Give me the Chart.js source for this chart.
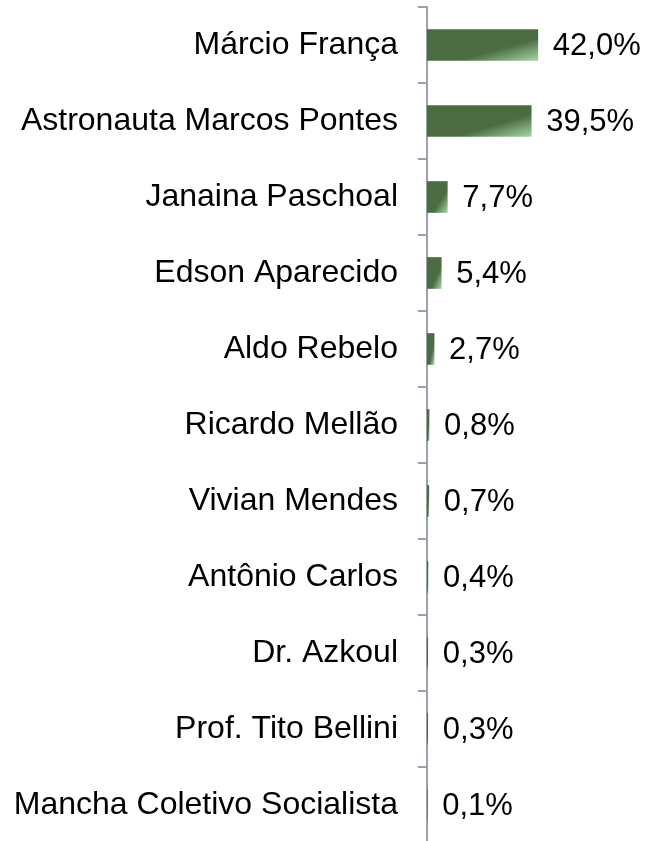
<!DOCTYPE html>
<html>
<head>
<meta charset="utf-8">
<script src="https://cdn.jsdelivr.net/npm/chart.js@4/dist/chart.umd.min.js"></script>
<style>
  html, body { margin: 0; padding: 0; background: #fff; overflow: hidden; }
  #wrap { width: 646px; height: 850px; }
</style>
</head>
<body>
<div id="wrap"><canvas id="votos" width="646" height="850"></canvas></div>
<script>
// candidatos (eixo y)
const nomes = [
  "Márcio França",
  "Astronauta Marcos Pontes",
  "Janaina Paschoal",
  "Edson Aparecido",
  "Aldo Rebelo",
  "Ricardo Mellão",
  "Vivian Mendes",
  "Antônio Carlos",
  "Dr. Azkoul",
  "Prof. Tito Bellini",
  "Mancha Coletivo Socialista",
];
// percentuais
const percentuais = [42.0, 39.5, 7.7, 5.4, 2.7, 0.8, 0.7, 0.4, 0.3, 0.3, 0.1];

const verdeEscuro = "#4b6c43";
const verdeClaro = "#a4d6a4";
const fonte = "'Liberation Sans', Arial, sans-serif";

// gradiente diagonal dentro de cada barra
function corBarra(context) {
  const chart = context.chart;
  if (context.dataIndex === undefined || !chart.chartArea) return verdeEscuro;
  const xs = chart.scales.x;
  const ys = chart.scales.y;
  if (!xs || !ys) return verdeEscuro;
  const x0 = xs.getPixelForValue(0);
  const x1 = xs.getPixelForValue(percentuais[context.dataIndex]);
  const h = 31;
  const top = ys.getPixelForValue(context.dataIndex) - h / 2;
  const w = Math.max(x1 - x0, 1);
  const gx = 1 / (2 * w), gy = 1 / (2 * h);
  const n2 = gx * gx + gy * gy;
  const g = chart.ctx.createLinearGradient(x0, top, x0 + gx / n2, top + gy / n2);
  g.addColorStop(0, verdeEscuro);
  g.addColorStop(0.64, verdeEscuro);
  g.addColorStop(1, verdeClaro);
  return g;
}

// rótulos de valor à direita das barras
const rotulos = {
  id: "rotulos",
  afterDatasetsDraw(chart) {
    const ctx = chart.ctx;
    const meta = chart.getDatasetMeta(0);
    ctx.save();
    ctx.font = "31px " + fonte;
    ctx.fillStyle = "#000";
    ctx.textAlign = "left";
    ctx.textBaseline = "middle";
    meta.data.forEach(function (bar, i) {
      const txt = percentuais[i].toFixed(1).replace(".", ",") + "%";
      ctx.fillText(txt, bar.x + 15, bar.y + 1);
    });
    ctx.restore();
  },
};

const ctx = document.getElementById("votos").getContext("2d");
const grafico = new Chart(ctx, {
  type: "bar",
  data: {
    labels: nomes,
    datasets: [
      {
        data: percentuais,
        backgroundColor: corBarra,
        hoverBackgroundColor: corBarra,
        borderWidth: 0,
        barThickness: 31,
      },
    ],
  },
  options: {
    indexAxis: "y",
    responsive: false,
    animation: false,
    events: [],
    layout: { padding: { top: 7, bottom: 7, left: 0, right: 0 } },
    plugins: {
      legend: { display: false },
      tooltip: { enabled: false },
    },
    scales: {
      x: {
        display: false,
        min: 0,
        max: 83,
      },
      y: {
        afterFit: function (scale) {
          scale.width = 427;
          // sem folga extra em cima/embaixo por causa dos rótulos
          scale.paddingTop = 0;
          scale.paddingBottom = 0;
        },
        grid: {
          drawOnChartArea: false,
          drawTicks: true,
          tickLength: 9,
          color: "#9aa1aa",
          lineWidth: 2,
        },
        border: { display: true, color: "#9aa1aa", width: 2 },
        ticks: {
          color: "#000",
          padding: 20,
          font: { family: fonte, size: 32 },
        },
      },
    },
  },
  plugins: [rotulos],
});
</script>
</body>
</html>
